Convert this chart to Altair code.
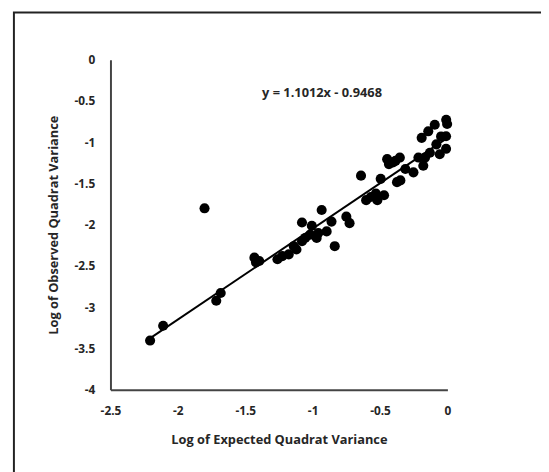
import altair as alt
import pandas as pd

# Observed scatter points
x_vals = [-2.206, -2.109, -1.802, -1.715, -1.682, -1.432, -1.420, -1.396, -1.261, -1.225,
          -1.177, -1.140, -1.079, -1.079, -1.055, -1.018, -1.006, -0.958, -0.933, -0.896,
          -0.860, -0.836, -0.750, -0.726, -0.641, -0.603, -0.568, -0.531, -0.520, -0.495,
          -0.470, -0.447, -0.434, -0.404, -0.385, -0.374, -0.349, -0.353, -0.312, -0.252,
          -0.215, -0.191, -0.179, -0.166, -0.142, -0.130, -0.094, -0.082, -0.057, -0.047,
          -0.010, -0.009, -0.010, -0.002, -1.120, -0.970]
y_vals = [-3.404, -3.225, -1.801, -2.922, -2.827, -2.399, -2.458, -2.440, -2.419, -2.380,
          -2.359, -2.260, -1.973, -2.200, -2.160, -2.120, -2.013, -2.100, -1.822, -2.081,
          -1.962, -2.260, -1.902, -1.981, -1.405, -1.702, -1.664, -1.623, -1.703, -1.444,
          -1.643, -1.205, -1.265, -1.245, -1.226, -1.484, -1.463, -1.186, -1.325, -1.365,
          -1.186, -0.947, -1.285, -1.186, -0.868, -1.127, -0.788, -1.026, -1.146, -0.930,
          -0.927, -0.728, -1.080, -0.779, -2.300, -2.160]

slope = 1.1012
intercept = -0.9468
line_x = [-2.21, 0.0]
eq_label = "y = 1.1012x - 0.9468"
eq_pos = (-0.93, -0.41)

x_ticks = [-2.5, -2, -1.5, -1, -0.5, 0]
y_ticks = [0, -0.5, -1, -1.5, -2, -2.5, -3, -3.5, -4]

pts = pd.DataFrame({"x": x_vals, "y": y_vals})
ln = pd.DataFrame({"x": line_x, "y": [slope * v + intercept for v in line_x]})
eq = pd.DataFrame({"x": [eq_pos[0]], "y": [eq_pos[1]], "t": [eq_label]})

FONT = "Open Sans"

xscale = alt.Scale(domain=[-2.5, 0], nice=False)
yscale = alt.Scale(domain=[-4, 0], nice=False)

common = dict(grid=False, ticks=False, domainColor="#444444", domainWidth=2,
              labelFont=FONT, titleFont=FONT, labelFontSize=12, titleFontSize=13,
              labelFontWeight="bold", titleFontWeight="bold", labelColor="#262626",
              titleColor="#262626", labelFlush=False, labelExpr="datum.value + ''")

xaxis = alt.Axis(values=x_ticks, title="Log of Expected Quadrat Variance",
                 labelPadding=16, titlePadding=18, **common)
yaxis = alt.Axis(values=y_ticks, title="Log of Observed Quadrat Variance",
                 labelPadding=16, titlePadding=14, **common)

points = alt.Chart(pts).mark_circle(size=105, color="black", opacity=1).encode(
    x=alt.X("x:Q", scale=xscale, axis=xaxis),
    y=alt.Y("y:Q", scale=yscale, axis=yaxis),
)
line = alt.Chart(ln).mark_line(color="black", strokeWidth=2).encode(
    x=alt.X("x:Q", scale=xscale), y=alt.Y("y:Q", scale=yscale)
)
text = alt.Chart(eq).mark_text(font=FONT, fontSize=13, fontWeight="bold", color="#262626").encode(
    x=alt.X("x:Q", scale=xscale), y=alt.Y("y:Q", scale=yscale), text="t:N"
)
border = alt.Chart(pd.DataFrame({"a": [0]})).mark_rect(
    fill=None, fillOpacity=0, stroke="#222222", strokeWidth=2
).encode(
    x=alt.value(-98), x2=alt.value(438), y=alt.value(-48), y2=alt.value(430)
)

chart = alt.layer(border, points, line, text).properties(
    width=342, height=335,
    autosize=alt.AutoSizeParams(type="none"),
    padding={"left": 104, "top": 49, "right": 95, "bottom": 80},
    background="white",
).configure_view(stroke=None)

chart.save("out.html", embed_options={"renderer": "svg", "actions": False})
